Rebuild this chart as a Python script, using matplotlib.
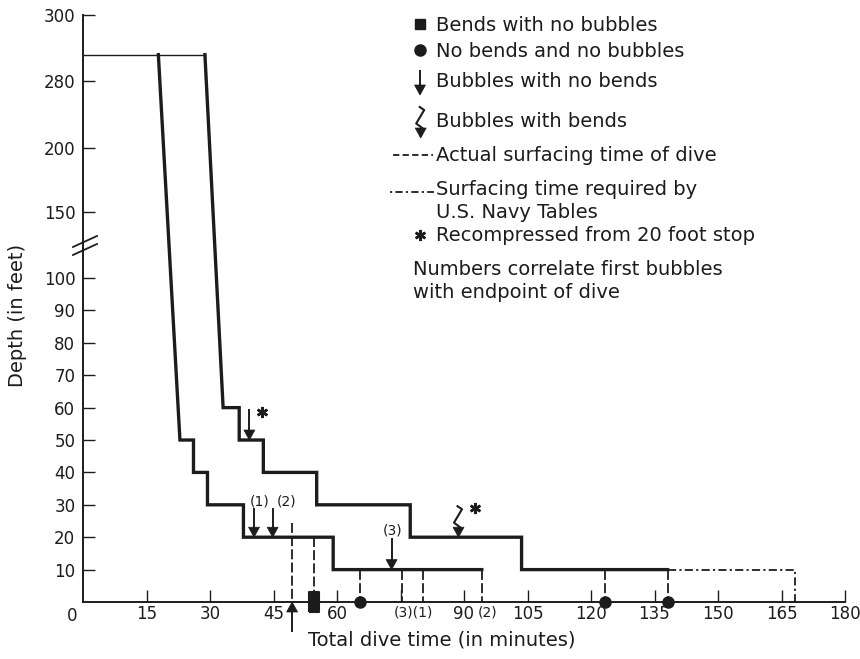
import numpy as np
import matplotlib
matplotlib.use("Agg")
import matplotlib.pyplot as plt
import matplotlib.transforms as mtransforms
from matplotlib.patches import Polygon
from matplotlib.lines import Line2D
from matplotlib.path import Path

# ---- data (time in minutes, depth in feet) ----
bottom_time = [0, 28.8]
bottom_depth = [288, 288]

# shorter dive profile
shallow_time = [17.8, 22.9, 26.1, 26.1, 29.4, 29.4, 37.9, 37.9, 59.1, 59.1, 94.2]
shallow_depth = [288, 50, 50, 40, 40, 30, 30, 20, 20, 10, 10]

# longer dive profile
deep_time = [28.8, 33.1, 36.9, 36.9, 42.6, 42.6, 55.2, 55.2, 77.3, 77.3, 103.6, 103.6, 138.1]
deep_depth = [288, 60, 60, 50, 50, 40, 40, 30, 30, 20, 20, 10, 10]

# surfacing time required by U.S. Navy tables
navy_time = [138.1, 168.2, 168.2]
navy_depth = [10, 10, 0]

# actual surfacing times (dashed verticals) and the depth they leave from
surface_time = [49.4, 54.6, 65.4, 75.3, 80.4, 94.2, 123.3, 138.1]
surface_from = [24.3, 20, 10, 10, 10, 10, 10, 10]

no_bends_time = [65.4, 123.3, 138.1]
bends_time = [54.6]

# bubbles with no bends: arrows
bubble_time = [39.3, 40.4, 44.8, 72.9]
bubble_from = [59.4, 28.6, 28.6, 19.4]
bubble_to = [50, 20, 20, 10]

# bubbles with bends
bend_bubble_time = [88.7]
bend_bubble_depth = [20]

# recompressed from 20 foot stop
recomp_time = [42.2, 92.6]
recomp_depth = [58.5, 29.0]

# numbers correlating first bubbles with endpoint
num_labels = ["(1)", "(2)", "(3)"]
num_time = [41.8, 48.2, 73.2]
num_depth = [30.9, 30.9, 22.2]
end_labels = ["(3)(1)", "(2)"]
end_time = [78.0, 95.5]

up_arrow_time = 49.4

x_ticks = [15, 30, 45, 60, 75, 90, 105, 120, 135, 150, 165, 180]
x_tick_labels = ["15", "30", "45", "60", "", "90", "105", "120", "135", "150", "165", "180"]
y_ticks = [10, 20, 30, 40, 50, 60, 70, 80, 90, 100, 150, 200, 280, 300]

legend_labels = ["Bends with no bubbles", "No bends and no bubbles",
                 "Bubbles with no bends", "Bubbles with bends",
                 "Actual surfacing time of dive",
                 "Surfacing time required by", "U.S. Navy Tables",
                 "Recompressed from 20 foot stop"]
note_lines = ["Numbers correlate first bubbles", "with endpoint of dive"]

# broken depth axis: above 100 ft the ticks are evenly spaced
DEPTH_KNOTS = [0, 100, 150, 200, 280, 300]
POS_KNOTS = [0, 100, 120.4, 140.1, 160.8, 181.2]


def depth_fwd(d):
    d = np.asarray(d, dtype=float)
    return np.where(d <= 100, d, np.interp(d, DEPTH_KNOTS, POS_KNOTS))


def depth_inv(p):
    p = np.asarray(p, dtype=float)
    return np.where(p <= 100, p, np.interp(p, POS_KNOTS, DEPTH_KNOTS))


INK = "#1c1c1c"
W, H, DPI = 860, 659, 100
plt.rcParams['font.family'] = ['DejaVu Sans']

fig = plt.figure(figsize=(W / DPI, H / DPI), dpi=DPI)
fig.patch.set_facecolor("white")
ax = fig.add_axes([83 / W, (H - 602) / H, 762 / W, 587 / H])
ax.set_yscale('function', functions=(depth_fwd, depth_inv))
ax.set_xlim(0, 180)
ax.set_ylim(0, 300)

for s in ("top", "right"):
    ax.spines[s].set_visible(False)
for s in ("left", "bottom"):
    ax.spines[s].set_linewidth(1.4)
    ax.spines[s].set_color(INK)

ax.set_xticks(x_ticks)
ax.set_xticklabels(x_tick_labels)
ax.set_yticks(y_ticks)
ax.set_yticklabels([str(v) for v in y_ticks])
ax.tick_params(axis='both', direction='in', length=8.5, width=1.0, color=INK,
               labelsize=12, labelcolor=INK)
ax.tick_params(axis='x', pad=2.5)
ax.tick_params(axis='y', pad=5.5)
ax.annotate("0", xy=(0, 0), xytext=(-11, -14), textcoords='offset pixels',
            ha='center', va='center', fontsize=12, color=INK, annotation_clip=False)


def off_trans(x, y, base):
    return fig.dpi_scale_trans + mtransforms.ScaledTranslation(x, y, base)


def head(x, y, base, target, up=False):
    s = -1 if up else 1
    pts = np.array([(-5.5, 10 * s), (5.5, 10 * s), (0, 0)]) / DPI
    target.add_artist(Polygon(pts, closed=True, transform=off_trans(x, y, base),
                              facecolor=INK, edgecolor=INK, lw=0.5, clip_on=False))


def squiggle(x, y, base, target):
    pts = np.array([(-1, 31), (3.5, 28), (-4.5, 14.5), (2.2, 9.5), (0, 5)]) / DPI
    target.add_artist(Line2D(pts[:, 0], pts[:, 1], transform=off_trans(x, y, base),
                             color=INK, lw=1.5, clip_on=False))
    head(x, y, base, target)


def slash(x, y, base, target):
    for dy in (0, 8):
        pts = np.array([(-10, -9 + dy), (14, 2 + dy)]) / DPI
        target.add_artist(Line2D(pts[:, 0], pts[:, 1], transform=off_trans(x, y, base),
                                 color=INK, lw=1.3, clip_on=False))


# axis break
slash(0, depth_inv(109.9), ax.transData, ax)

# profiles
ax.plot(bottom_time, bottom_depth, color=INK, lw=1.0)
ax.plot(shallow_time, shallow_depth, color=INK, lw=2.4, solid_joinstyle='miter')
ax.plot(deep_time, deep_depth, color=INK, lw=2.4, solid_joinstyle='miter')
ax.plot(navy_time, navy_depth, color=INK, lw=1.3, dashes=(4.5, 1.8, 1.2, 1.8))

for t, d in zip(surface_time, surface_from):
    ax.plot([t, t], [d, 0], color=INK, lw=1.3, dashes=(5.5, 1.8))

ax.plot(no_bends_time, [0] * len(no_bends_time), 'o', ms=8, color=INK,
        clip_on=False, zorder=5)
bar_marker = Path([(-0.25, -0.5), (0.25, -0.5), (0.25, 0.5), (-0.25, 0.5), (-0.25, -0.5)])
ax.plot(bends_time, [0] * len(bends_time), marker=bar_marker, ms=14.5, ls='none',
        color=INK, mew=1.5, clip_on=False, zorder=5)

for t, d0, d1 in zip(bubble_time, bubble_from, bubble_to):
    ax.plot([t, t], [d0, d1 + 2], color=INK, lw=1.4)
    head(t, d1, ax.transData, ax)

for t, d in zip(bend_bubble_time, bend_bubble_depth):
    squiggle(t, d, ax.transData, ax)

ax.plot(recomp_time, recomp_depth, ls='none', marker=(6, 2, 0), ms=8, mew=1.8,
        color=INK)

# arrow below the axis
ax.plot([up_arrow_time, up_arrow_time], [-9, -2], color=INK, lw=1.4, clip_on=False)
head(up_arrow_time, 0, ax.transData, ax, up=True)

for lab, t, d in zip(num_labels, num_time, num_depth):
    ax.text(t, d, lab, fontsize=10, ha='center', va='center', color=INK)
for lab, t in zip(end_labels, end_time):
    ax.text(t, -3.3, lab, fontsize=10, ha='center', va='center', color=INK,
            clip_on=False)

ax.set_xlabel("Total dive time (in minutes)", fontsize=14, color=INK)
ax.xaxis.label.set_va('center')
ax.xaxis.set_label_coords((442 - 83) / 762, (602 - 640) / 587)
ax.set_ylabel("Depth (in feet)", fontsize=14, color=INK)
ax.yaxis.label.set_va('center')
ax.yaxis.set_label_coords((18 - 83) / 762, (602 - 315) / 587)


# ---- legend, placed in figure pixels ----
def fp(x, y):
    return x / DPI, (H - y) / DPI


ftr = fig.dpi_scale_trans
text_x = 436
baselines = [30.7, 56.7, 86.7, 126.7, 160.7, 195, 218, 241]
for lab, yb in zip(legend_labels, baselines):
    fig.text(*fp(text_x, yb), lab, transform=ftr, fontsize=14, va='baseline',
             ha='left', color=INK)
for lab, yb in zip(note_lines, [275, 297.7]):
    fig.text(*fp(413, yb), lab, transform=ftr, fontsize=14, va='baseline',
             ha='left', color=INK)

fig.add_artist(Line2D(*zip(fp(420, 23.5)), marker='s', ms=7, color=INK, transform=ftr))
fig.add_artist(Line2D(*zip(fp(420, 50)), marker='o', ms=8, color=INK, transform=ftr))
x0, y0 = fp(420, 71)
x1, y1 = fp(420, 93)
fig.add_artist(Line2D([x0, x1], [y0, y1], color=INK, lw=1.4, transform=ftr))
head(*fp(420, 95), ftr, fig)
squiggle(*fp(420.7, 138), ftr, fig)
xa, ya = fp(393, 155)
xb, yb = fp(433, 155)
fig.add_artist(Line2D([xa, xb], [ya, yb], color=INK, lw=1.3, dashes=(3.5, 1.8),
                      transform=ftr))
xa, ya = fp(390, 192)
xb, yb = fp(434, 192)
fig.add_artist(Line2D([xa, xb], [ya, yb], color=INK, lw=1.3,
                      dashes=(1.2, 1.8, 4.0, 1.8), transform=ftr))
fig.add_artist(Line2D(*zip(fp(420, 235)), marker=(6, 2, 0), ms=8, mew=1.8,
                      color=INK, transform=ftr))

fig.savefig("out.png", dpi=DPI, facecolor="white")
